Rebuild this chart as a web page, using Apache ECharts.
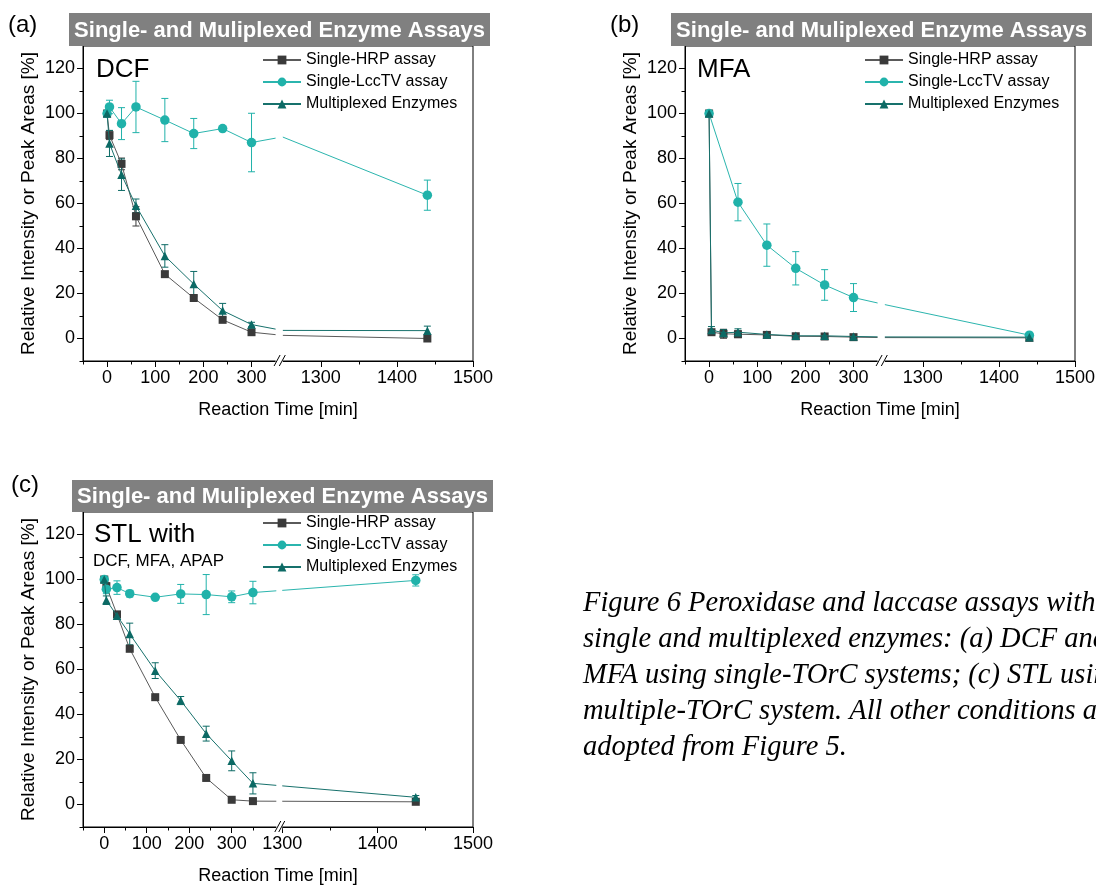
<!DOCTYPE html>
<html>
<head>
<meta charset="utf-8">
<script src="https://cdn.jsdelivr.net/npm/echarts@6.0.0/dist/echarts.min.js"></script>
<style>
  html, body { margin: 0; padding: 0; background: #fff; }
  #chart { width: 1096px; height: 887px; }
</style>
</head>
<body>
<div id="chart"></div>
<script>
// ---- data (time in min, values in %) ----
const seriesNames = ['Single-HRP assay', 'Single-LccTV assay', 'Multiplexed Enzymes'];

// (a) DCF  -- the 1200 min sample sits inside the axis break
const timesA = [0, 5, 30, 60, 120, 180, 240, 300, 1200, 1440];
const hrpA = [100, 90.4, 77.6, 54.3, 28.6, 18, 8.3, 2.8, 1.4, 0];
const hrpErrA = [0.5, 2, 2.6, 4.3, 1, 1.2, 1, 0.8, null, 0.5];
const lccA = [100, 102.9, 95.5, 102.9, 97.1, 91.1, 93.3, 87.1, 89.6, 63.7];
const lccErrA = [0.5, 3, 7.1, 11.4, 9.6, 6.7, 1, 13, null, 6.7];
const multA = [100, 86.7, 72.8, 59, 36.7, 24.2, 12.4, 6.2, 3.6, 3.5];
const multErrA = [1, 5.8, 7, 3, 5, 5.6, 3.2, 1, null, 2];

// (b) MFA
const timesB = [0, 5, 30, 60, 120, 180, 240, 300, 1200, 1440];
const hrpB = [100, 2.8, 2.1, 1.9, 1.6, 1.0, 0.9, 0.6, 0.4, 0.3];
const hrpErrB = [0.5, 1, 2, 1.5, 0.8, 0.5, 0.5, 0.3, null, 0.3];
const lccTimesB = [0, 60, 120, 180, 240, 300, 1200, 1440];
const lccB = [100, 60.6, 41.5, 31.2, 23.8, 18.2, 15.1, 1.5];
const lccErrB = [0.5, 8.3, 9.4, 7.4, 6.8, 6.2, null, 0.8];
const multB = [100, 3.8, 2.5, 2.8, 1.8, 1.2, 1.2, 0.9, 0.7, 0.6];
const multErrB = [0.5, 1.5, 1.5, 1.5, 0.8, 0.5, 0.5, 0.5, null, 0.3];

// (c) STL with DCF, MFA, APAP
const timesC = [0, 5, 30, 60, 120, 180, 240, 300, 350, 1440];
const hrpC = [100, 97, 84.5, 69.2, 47.7, 28.7, 11.8, 2.1, 1.5, 1.2];
const hrpErrC = [0.5, 1.5, 1, 1, 0.5, 1.2, 0.8, 0.5, 0.5, 0.5];
const lccC = [100, 95.7, 96.4, 93.7, 92.1, 93.6, 93.3, 92.3, 94.2, 99.6];
const lccErrC = [1, 2, 3, 1.5, 0.5, 4.2, 8.9, 2.6, 5, 2.5];
const multC = [100, 90.8, 83.9, 75.8, 59.5, 46.2, 31.5, 19.4, 9.4, 3.2];
const multErrC = [1, 1.9, 1.5, 4.8, 3.5, 1.8, 3.3, 4.4, 4.7, 0.8];

const xTickLabels = [0, 100, 200, 300, 1300, 1400, 1500];
const xMinorAB = [-50, 50, 150, 250, 1350, 1450];
const xMinorC = [-50, 50, 150, 250, 350, 1350, 1450];
const yTicks = [0, 20, 40, 60, 80, 100, 120];
const yMinor = [-10, 10, 30, 50, 70, 90, 110];

// ---- broken x axis: piecewise linear mapping onto one value axis ----
const breakAB = { lo: 350, hi: 1250, tHi: 365, k: 1.58, max: 760 };
const breakC = { lo: 405, hi: 1300, tHi: 419, k: 2.245, max: 868 };
function toAxis(b, x) {
  if (x <= b.lo) return x;
  if (x >= b.hi) return b.tHi + (x - b.hi) * b.k;
  return b.lo + (x - b.lo) / (b.hi - b.lo) * (b.tHi - b.lo);
}

const SANS = 'Liberation Sans, Arial, sans-serif';
const colors = {
  hrp: { mark: '#3a3a3a', line: '#5a5a5a' },
  lcc: { mark: '#20b2aa', line: '#2bb5ae' },
  mult: { mark: '#0c6a65', line: '#17716c' }
};

const panels = [
  {
    grid: { left: 83, top: 46, width: 390, height: 315 }, brk: breakAB, minor: xMinorAB,
    sets: [
      { name: seriesNames[0], t: timesA, v: hrpA, e: hrpErrA, c: colors.hrp, sym: 'rect', size: 8 },
      { name: seriesNames[1], t: timesA, v: lccA, e: lccErrA, c: colors.lcc, sym: 'circle', size: 9.5 },
      { name: seriesNames[2], t: timesA, v: multA, e: multErrA, c: colors.mult, sym: 'triangle', size: 8.5 }
    ]
  },
  {
    grid: { left: 685, top: 46, width: 390, height: 315 }, brk: breakAB, minor: xMinorAB,
    sets: [
      { name: seriesNames[0], t: timesB, v: hrpB, e: hrpErrB, c: colors.hrp, sym: 'rect', size: 8 },
      { name: seriesNames[1], t: lccTimesB, v: lccB, e: lccErrB, c: colors.lcc, sym: 'circle', size: 9.5 },
      { name: seriesNames[2], t: timesB, v: multB, e: multErrB, c: colors.mult, sym: 'triangle', size: 8.5 }
    ]
  },
  {
    grid: { left: 83, top: 512, width: 390, height: 315 }, brk: breakC, minor: xMinorC,
    sets: [
      { name: seriesNames[0], t: timesC, v: hrpC, e: hrpErrC, c: colors.hrp, sym: 'rect', size: 8 },
      { name: seriesNames[1], t: timesC, v: lccC, e: lccErrC, c: colors.lcc, sym: 'circle', size: 9.5 },
      { name: seriesNames[2], t: timesC, v: multC, e: multErrC, c: colors.mult, sym: 'triangle', size: 8.5 }
    ]
  }
];

const chart = echarts.init(document.getElementById('chart'), null, { renderer: 'canvas' });

const grids = [], xAxes = [], yAxes = [], series = [], legends = [];

panels.forEach((pn, p) => {
  const b = pn.brk;
  grids.push(Object.assign({ show: true, borderColor: '#000', borderWidth: 1, containLabel: false, outerBoundsMode: 'none' }, pn.grid));
  const labelT = xTickLabels.map(v => toAxis(b, v));
  xAxes.push({
    type: 'value', gridIndex: p, min: -50, max: b.max, position: 'bottom',
    axisLine: { show: true, onZero: false, lineStyle: { color: '#000', width: 1 } },
    axisTick: { show: true, inside: false, length: 6, customValues: labelT, lineStyle: { color: '#000' } },
    axisLabel: {
      show: true, customValues: labelT, margin: 8, fontSize: 18, color: '#000', fontFamily: SANS,
      formatter: v => {
        const hit = xTickLabels.find(l => Math.abs(toAxis(b, l) - v) < 1e-6);
        return hit === undefined ? '' : String(hit);
      }
    },
    splitLine: { show: false },
    name: 'Reaction Time [min]', nameLocation: 'middle', nameGap: 40,
    nameTextStyle: { fontSize: 18, color: '#000', fontFamily: SANS }
  });
  xAxes.push({
    type: 'value', gridIndex: p, min: -50, max: b.max, position: 'bottom',
    axisLine: { show: false, onZero: false },
    axisTick: { show: true, length: 3.5, customValues: pn.minor.map(v => toAxis(b, v)), lineStyle: { color: '#000' } },
    axisLabel: { show: false }, splitLine: { show: false }
  });
  yAxes.push({
    type: 'value', gridIndex: p, min: -10, max: 130, position: 'left',
    axisLine: { show: true, onZero: false, lineStyle: { color: '#000', width: 1 } },
    axisTick: { show: true, inside: false, length: 6, customValues: yTicks, lineStyle: { color: '#000' } },
    axisLabel: { show: true, customValues: yTicks, margin: 8, fontSize: 18, color: '#000', fontFamily: SANS },
    splitLine: { show: false },
    name: 'Relative Intensity or Peak Areas [%]', nameLocation: 'middle', nameGap: 45,
    nameTextStyle: { fontSize: 19, color: '#000', fontFamily: SANS }
  });
  yAxes.push({
    type: 'value', gridIndex: p, min: -10, max: 130, position: 'left',
    axisLine: { show: false, onZero: false },
    axisTick: { show: true, length: 3.5, customValues: yMinor, lineStyle: { color: '#000' } },
    axisLabel: { show: false }, splitLine: { show: false }
  });

  pn.sets.forEach((s, si) => {
    // error bars
    const errData = [];
    s.t.forEach((t, i) => {
      if (s.e[i] !== null) errData.push([toAxis(b, t), s.v[i] - s.e[i], s.v[i] + s.e[i]]);
    });
    series.push({
      type: 'custom', xAxisIndex: 2 * p, yAxisIndex: 2 * p, silent: true, z: 2 + si,
      clip: true, encode: { x: 0, y: [1, 2] }, data: errData,
      renderItem: (params, api) => {
        const x = api.value(0);
        const p1 = api.coord([x, api.value(1)]);
        const p2 = api.coord([x, api.value(2)]);
        const w = 3.5, st = { stroke: s.c.mark, lineWidth: 1 };
        return {
          type: 'group', children: [
            { type: 'line', shape: { x1: p1[0], y1: p1[1], x2: p2[0], y2: p2[1] }, style: st },
            { type: 'line', shape: { x1: p1[0] - w, y1: p1[1], x2: p1[0] + w, y2: p1[1] }, style: st },
            { type: 'line', shape: { x1: p2[0] - w, y1: p2[1], x2: p2[0] + w, y2: p2[1] }, style: st }
          ]
        };
      }
    });
    series.push({
      type: 'line', name: s.name, xAxisIndex: 2 * p, yAxisIndex: 2 * p,
      symbol: s.sym, symbolSize: s.size, showAllSymbol: true, clip: true, z: 5 + si,
      itemStyle: { color: s.c.mark, borderWidth: 0 },
      lineStyle: { color: s.c.line, width: 1 },
      emphasis: { disabled: true },
      data: s.t.map((t, i) => {
        const inBreak = t > b.lo && t < b.hi;
        return inBreak ? { value: [toAxis(b, t), s.v[i]], symbol: 'none' } : [toAxis(b, t), s.v[i]];
      })
    });
  });

  legends.push({
    data: seriesNames, z: 60,
    orient: 'vertical', selectedMode: false, padding: 0,
    left: pn.grid.left + 179, top: pn.grid.top + (p === 2 ? 3 : 6),
    itemWidth: 38, itemHeight: 11, itemGap: 6,
    textStyle: { fontSize: 16, lineHeight: 16, color: '#000', fontFamily: SANS }
  });
});

chart.setOption({
  animation: false,
  backgroundColor: '#fff',
  grid: grids, xAxis: xAxes, yAxis: yAxes, series: series, legend: legends
});

// ---- decorations: banners, labels, caption, axis break marks ----
const bannerText = 'Single- and Muliplexed Enzyme Assays';
const banners = [[69, 13, 421, 33], [671, 13, 421, 33], [72, 480, 421, 32]];
const panelTags = [['(a)', 8, 25], ['(b)', 610, 25], ['(c)', 11, 485]];
const captionLines = [
  'Figure 6 Peroxidase and laccase assays with',
  'single and multiplexed enzymes: (a) DCF and (b)',
  'MFA using single-TOrC systems; (c) STL using a',
  'multiple-TOrC system. All other conditions are',
  'adopted from Figure 5.'
];

const g = [];
banners.forEach(([x, y, w, h]) => {
  g.push({ type: 'rect', shape: { x, y, width: w, height: h }, style: { fill: '#808080' }, z: 10, silent: true });
  g.push({ type: 'text', x: x + w / 2, y: y + h / 2 + 1, z: 11, silent: true,
    style: { text: bannerText, fill: '#fff', font: 'bold 22px ' + SANS, align: 'center', verticalAlign: 'middle' } });
});
panelTags.forEach(([t, x, y]) => {
  g.push({ type: 'text', x, y, z: 11, silent: true,
    style: { text: t, fill: '#000', font: '24px ' + SANS, align: 'left', verticalAlign: 'middle' } });
});
g.push({ type: 'text', x: 96, y: 70, z: 11, style: { text: 'DCF', fill: '#000', font: '26px ' + SANS, verticalAlign: 'middle' } });
g.push({ type: 'text', x: 697, y: 70, z: 11, style: { text: 'MFA', fill: '#000', font: '26px ' + SANS, verticalAlign: 'middle' } });
g.push({ type: 'text', x: 94, y: 535, z: 11, style: { text: 'STL with', fill: '#000', font: '26px ' + SANS, verticalAlign: 'middle' } });
g.push({ type: 'text', x: 93, y: 561, z: 11, style: { text: 'DCF, MFA, APAP', fill: '#000', font: '17px ' + SANS, verticalAlign: 'middle' } });
captionLines.forEach((t, i) => {
  g.push({ type: 'text', x: 583, y: 604 + 36 * i, z: 11, silent: true,
    style: { text: t, fill: '#000', font: 'italic 28.5px Liberation Serif, serif', verticalAlign: 'middle' } });
});

// white gap across the plot at the break, plus the // marks on the axis
panels.forEach((pn, p) => {
  const xl = chart.convertToPixel({ xAxisIndex: 2 * p }, pn.brk.lo);
  const xr = chart.convertToPixel({ xAxisIndex: 2 * p }, pn.brk.tHi);
  const top = pn.grid.top, by = pn.grid.top + pn.grid.height;
  g.push({ type: 'rect', shape: { x: xl, y: top + 1, width: xr - xl, height: by - top + 1.5 },
    style: { fill: '#fff' }, z: 50, silent: true });
  [xl - 1.5, xr - 3.5].forEach(x0 => {
    g.push({ type: 'line', shape: { x1: x0, y1: by + 5, x2: x0 + 6, y2: by - 6 },
      style: { stroke: '#000', lineWidth: 1 }, z: 51, silent: true });
  });
});

chart.setOption({ graphic: g });
</script>
</body>
</html>
